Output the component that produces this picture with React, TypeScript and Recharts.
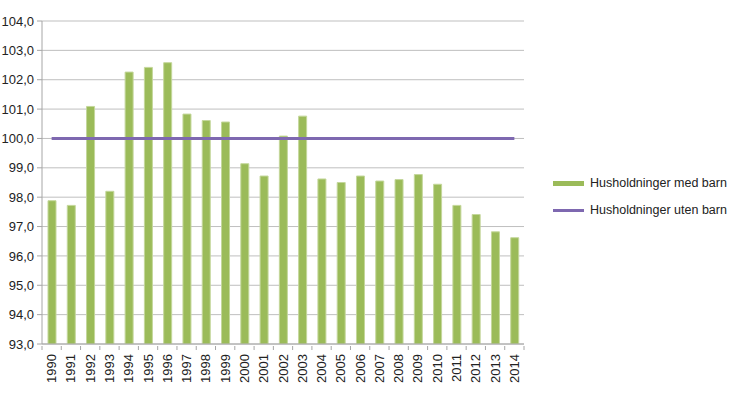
import React from 'react';
import {
  ComposedChart,
  Bar,
  Line,
  XAxis,
  YAxis,
  CartesianGrid,
} from 'recharts';

const years = [
  '1990', '1991', '1992', '1993', '1994', '1995', '1996', '1997', '1998', '1999',
  '2000', '2001', '2002', '2003', '2004', '2005', '2006', '2007', '2008', '2009',
  '2010', '2011', '2012', '2013', '2014',
];

const medBarn = [
  97.88, 97.72, 101.09, 98.2, 102.26, 102.42, 102.58, 100.83, 100.61, 100.56,
  99.14, 98.72, 100.08, 100.76, 98.62, 98.5, 98.72, 98.55, 98.6, 98.77,
  98.44, 97.72, 97.41, 96.82, 96.62,
];

const utenBarn = [
  100, 100, 100, 100, 100, 100, 100, 100, 100, 100,
  100, 100, 100, 100, 100, 100, 100, 100, 100, 100,
  100, 100, 100, 100, 100,
];

const yTicks = [93, 94, 95, 96, 97, 98, 99, 100, 101, 102, 103, 104];

const seriesNames = ['Husholdninger med barn', 'Husholdninger uten barn'];

const GREEN = '#9BBB59';
const PURPLE = '#7E68B0';
const AXIS = '#A6A6A6';
const FONT = '"Liberation Sans", Arial, sans-serif';

const data = years.map((year, i) => ({
  year,
  med: medBarn[i],
  uten: utenBarn[i],
}));

// rotated year labels (bottom to top) plus small marks between categories
const YearTick = (props: any) => {
  const { x, y, payload, width, visibleTicksCount } = props;
  const half = width / (visibleTicksCount || years.length) / 2;
  return (
    <g>
      <line x1={x + half} x2={x + half} y1={y} y2={y + 4} stroke={AXIS} />
      {payload.index === 0 && (
        <line x1={x - half} x2={x - half} y1={y} y2={y + 4} stroke={AXIS} />
      )}
      <g transform={`translate(${x},${y})`}>
        <text
          transform="rotate(-90)"
          x={-8}
          y={0}
          dy={4.5}
          textAnchor="end"
          fill="#222"
          fontSize={13}
          fontFamily={FONT}
        >
          {payload.value}
        </text>
      </g>
    </g>
  );
};

// legend sits to the right of the plot, drawn as plain html
const LegendBox = () => (
  <div
    style={{
      position: 'absolute',
      left: 553,
      top: 176,
      fontFamily: FONT,
      fontSize: 12.5,
      color: '#222',
      whiteSpace: 'nowrap',
    }}
  >
    <div style={{ display: 'flex', alignItems: 'center', height: 14 }}>
      <span style={{ width: 31, height: 5, background: GREEN, marginRight: 6 }} />
      {seriesNames[0]}
    </div>
    <div style={{ display: 'flex', alignItems: 'center', height: 14, marginTop: 13 }}>
      <span style={{ width: 31, height: 3, background: PURPLE, marginRight: 6 }} />
      {seriesNames[1]}
    </div>
  </div>
);

export default function App() {
  return (
    <div style={{ position: 'absolute', left: 0, top: 0, width: 730, height: 396, background: '#fff' }}>
      <ComposedChart
        width={730}
        height={396}
        data={data}
        margin={{ top: 21, right: 206, bottom: 0, left: 0 }}
        barCategoryGap={0}
      >
        <CartesianGrid vertical={false} stroke="#BFBFBF" strokeWidth={1} />
        <XAxis
          dataKey="year"
          height={52}
          tickLine={false}
          tickSize={0}
          axisLine={{ stroke: AXIS }}
          interval={0}
          tick={<YearTick />}
        />
        <YAxis
          width={42}
          domain={[93, 104]}
          ticks={yTicks}
          allowDataOverflow
          tickSize={5}
          tickMargin={3}
          axisLine={{ stroke: AXIS }}
          tickLine={{ stroke: AXIS }}
          tick={{ fill: '#222', fontSize: 13, fontFamily: FONT }}
          tickFormatter={(v: number) => v.toFixed(1).replace('.', ',')}
        />
        <Bar
          dataKey="med"
          name={seriesNames[0]}
          fill={GREEN}
          stroke="#C4D79B"
          strokeWidth={1}
          barSize={8}
          isAnimationActive={false}
        />
        <Line
          dataKey="uten"
          name={seriesNames[1]}
          stroke={PURPLE}
          strokeWidth={3}
          dot={false}
          activeDot={false}
          isAnimationActive={false}
        />
      </ComposedChart>
      <LegendBox />
    </div>
  );
}
